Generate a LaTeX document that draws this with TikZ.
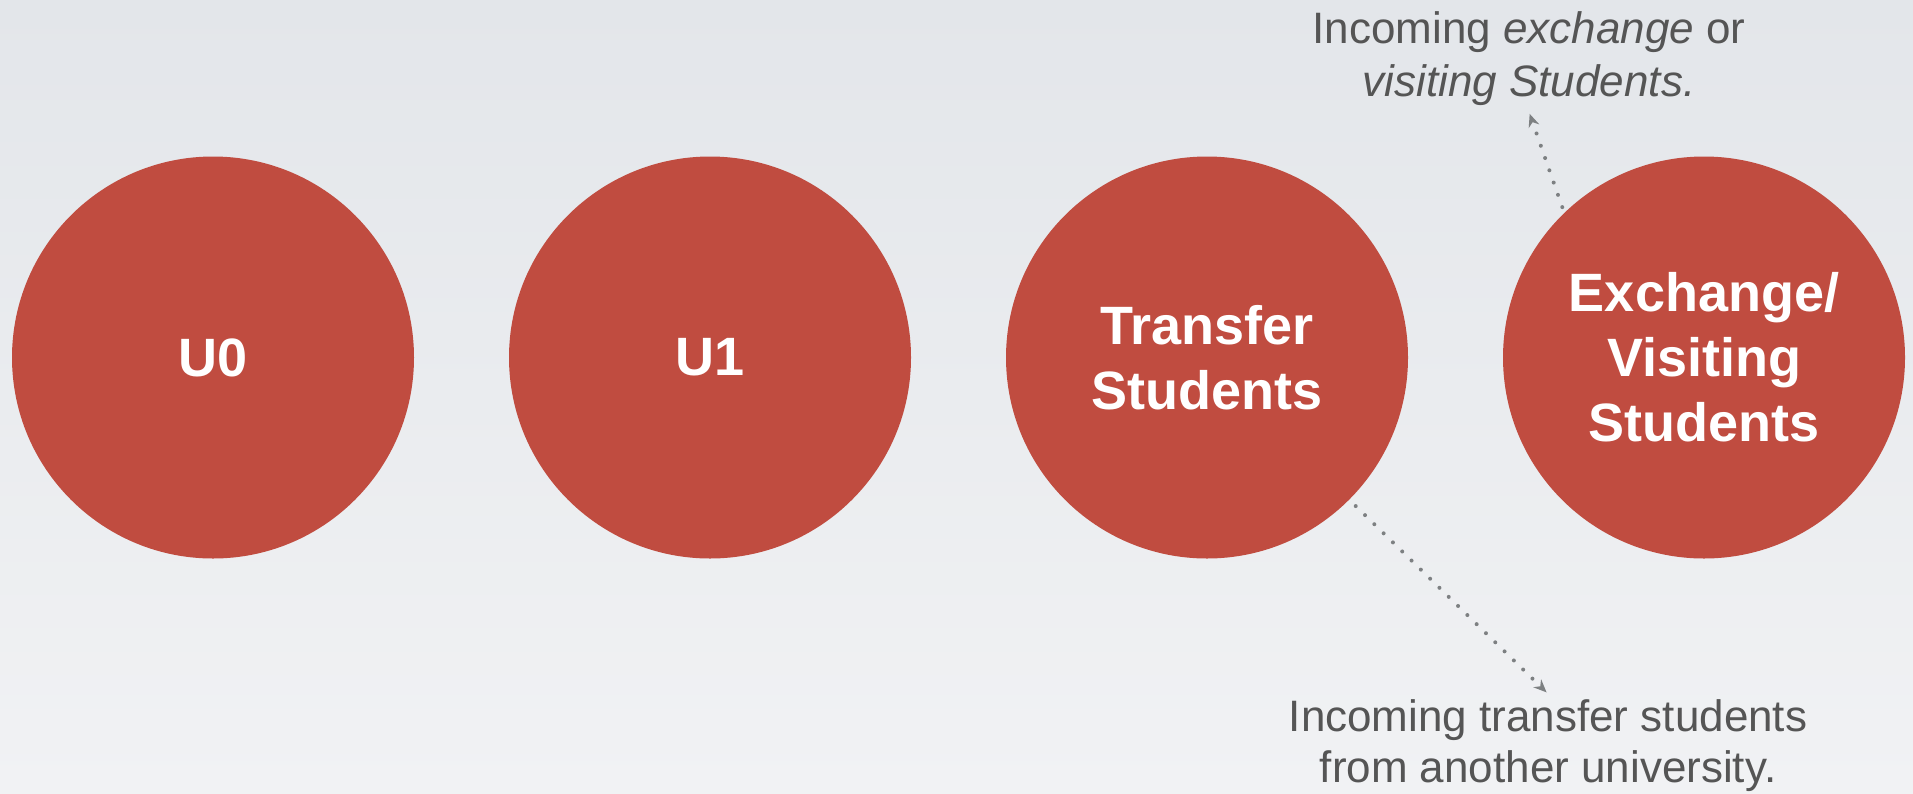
\documentclass[tikz,border=0pt]{standalone}
\usepackage{fontspec}
\setmainfont{Liberation Sans}
\usetikzlibrary{arrows.meta}
\definecolor{dotred}{RGB}{192,76,64}
\definecolor{notegray}{RGB}{85,85,85}
\definecolor{dotgray}{RGB}{125,128,130}
\definecolor{bgtop}{RGB}{227,230,234}
\definecolor{bgbot}{RGB}{241,242,244}
\begin{document}
\begin{tikzpicture}[x=1pt, y=-1pt,
    bubble/.style={circle, fill=dotred, minimum size=402pt, inner sep=0pt,
        text=white, align=center, font=\fontsize{54}{65}\selectfont\bfseries},
    note/.style={text=notegray, align=center, inner sep=6pt,
        font=\fontsize{44}{52}\selectfont},
    pointer/.style={dotgray, line width=4pt, line cap=round,
        dash pattern=on 0pt off 13pt, -{Stealth[length=13pt, width=11pt]}}]
\def\cy{357.5}
\shade[top color=bgtop, bottom color=bgbot] (0,0) rectangle (1913,793);
\useasboundingbox (0,0) rectangle (1913,793);
% the four groups
\node[bubble] (u0) at (213,\cy) {U0};
\node[bubble] (u1) at (710,\cy) {U1};
\node[bubble] (trans) at (1207,\cy) {Transfer\\Students};
\node[bubble] (exch) at (1704,\cy) {Exchange/\\Visiting\\Students};
% notes
\node[note, font=\fontsize{44}{53.5}\selectfont] (exchnote) at (1529,58.5) {Incoming \textit{exchange} or\\\textit{visiting Students.}};
\node[note, font=\fontsize{44}{51}\selectfont] (transnote) at (1548,746) {Incoming transfer students\\from another university.};
\draw[pointer, shorten <=6pt, shorten >=2pt] (exch.134) -- (exchnote.south);
\draw[pointer, shorten <=9pt, shorten >=2pt] (trans.-45) -- (transnote.north);
\end{tikzpicture}
\end{document}
